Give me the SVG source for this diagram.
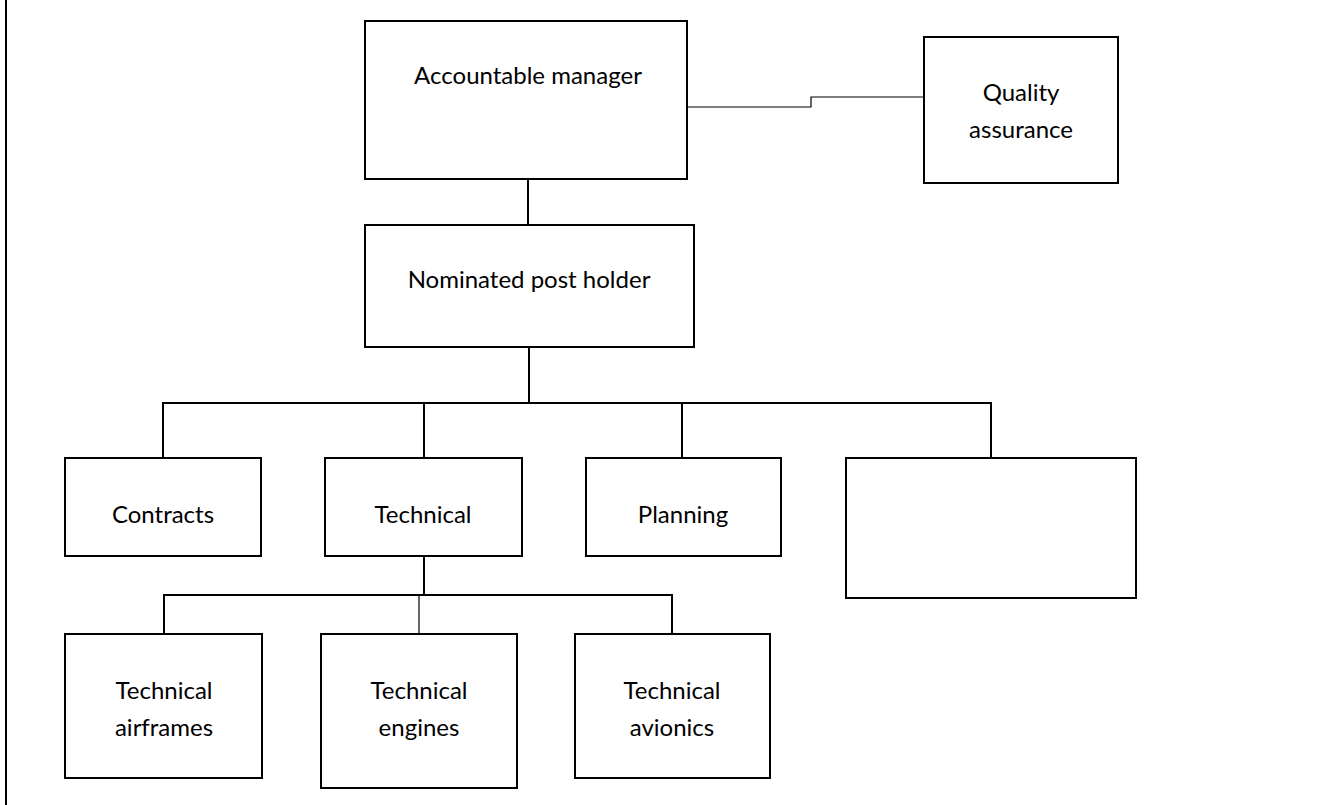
<svg xmlns="http://www.w3.org/2000/svg" width="1325" height="805" viewBox="0 0 1325 805">
<style>
.box{fill:#fff;stroke:#000;stroke-width:2}
.ln{fill:none;stroke:#000;stroke-width:2}
.thin{fill:none;stroke:#000;stroke-width:1.2}
.t{font-family:Lato,"Open Sans",sans-serif;font-size:24px;fill:#000;text-anchor:middle}
</style>
<rect width="1325" height="805" fill="#fff"/>
<line x1="6" y1="0" x2="6" y2="805" stroke="#000" stroke-width="2"/>
<g id="connectors">
<path class="thin" d="M688 107 H811 V97 H924"/>
<path class="ln" stroke-width="1.5" d="M528 179 V225"/>
<path class="ln" stroke-width="2.5" d="M529 347 V403"/>
<path class="ln" d="M163 458 V403 H991 V458"/>
<path class="ln" d="M424 403 V458"/>
<path class="ln" d="M682 403 V458"/>
<path class="ln" d="M424 556 V595"/>
<path class="ln" d="M164 634 V595 H672 V634"/>
<path class="thin" stroke-width="1.5" d="M419 595 V634"/>
</g>
<g id="accountable-manager"><rect class="box" x="365" y="21" width="322" height="158"/><text class="t" x="528" y="84">Accountable manager</text></g>
<g id="quality-assurance"><rect class="box" x="924" y="37" width="194" height="146"/><text class="t" x="1021" y="101">Quality</text><text class="t" x="1021" y="138">assurance</text></g>
<g id="nominated-post-holder"><rect class="box" x="365" y="225" width="329" height="122"/><text class="t" x="529" y="288">Nominated post holder</text></g>
<g id="contracts"><rect class="box" x="65" y="458" width="196" height="98"/><text class="t" x="163" y="523">Contracts</text></g>
<g id="technical"><rect class="box" x="325" y="458" width="197" height="98"/><text class="t" x="423" y="523">Technical</text></g>
<g id="planning"><rect class="box" x="586" y="458" width="195" height="98"/><text class="t" x="683" y="523">Planning</text></g>
<g id="blank"><rect class="box" x="846" y="458" width="290" height="140"/></g>
<g id="technical-airframes"><rect class="box" x="65" y="634" width="197" height="144"/><text class="t" x="164" y="699">Technical</text><text class="t" x="164" y="736">airframes</text></g>
<g id="technical-engines"><rect class="box" x="321" y="634" width="196" height="154"/><text class="t" x="419" y="699">Technical</text><text class="t" x="419" y="736">engines</text></g>
<g id="technical-avionics"><rect class="box" x="575" y="634" width="195" height="144"/><text class="t" x="672" y="699">Technical</text><text class="t" x="672" y="736">avionics</text></g>
</svg>
